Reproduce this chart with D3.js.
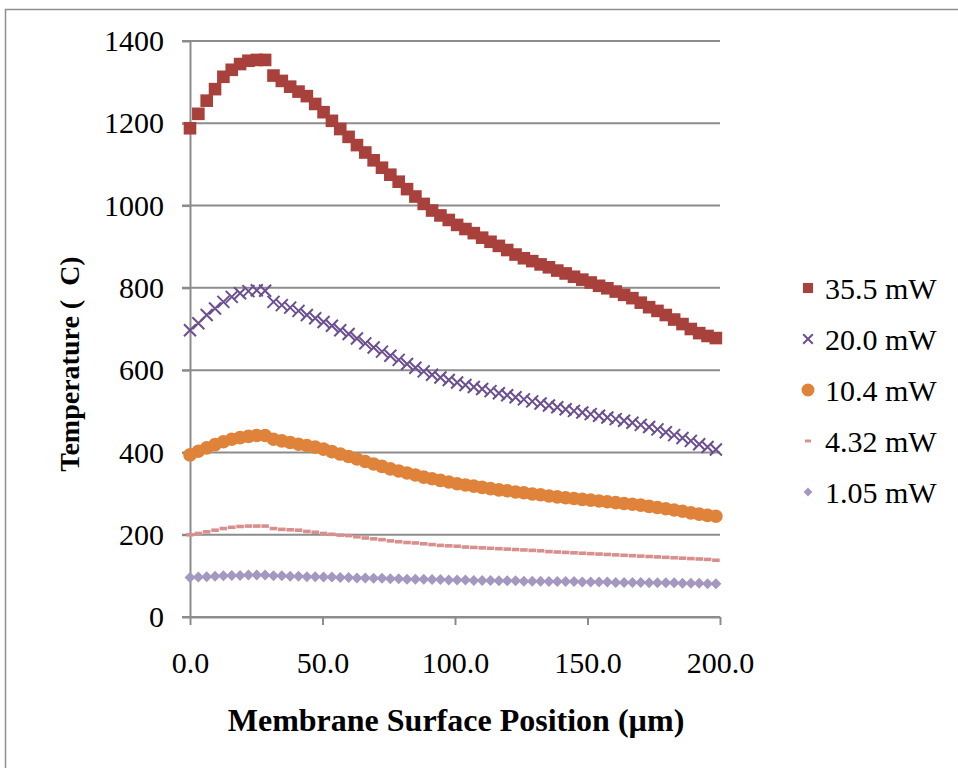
<!DOCTYPE html>
<html>
<head>
<meta charset="utf-8">
<script src="https://cdn.jsdelivr.net/npm/d3@7"></script>
<style>
  body { margin: 0; background: #fff; }
  svg { display: block; }
  text { font-family: "Liberation Serif", "Times New Roman", serif; fill: #000; }
</style>
</head>
<body>
<div class="mainCont"></div>
<script>
// membrane position (um)
var positions = [0, 3.15, 6.3, 9.45, 12.6, 15.75, 18.9, 22.05, 25.2, 28.35, 31.5, 34.65, 37.8, 40.95, 44.1, 47.25,
    50.4, 53.55, 56.7, 59.85, 63, 66.15, 69.3, 72.45, 75.6, 78.75, 81.9, 85.05, 88.2, 91.35, 94.5, 97.65,
    100.8, 103.95, 107.1, 110.25, 113.4, 116.55, 119.7, 122.85, 126, 129.15, 132.3, 135.45, 138.6, 141.75, 144.9, 148.05,
    151.2, 154.35, 157.5, 160.65, 163.8, 166.95, 170.1, 173.25, 176.4, 179.55, 182.7, 185.85, 189, 192.15, 195.3, 198.45];

var t35_5 = [1188, 1223, 1255, 1283, 1313, 1330, 1344, 1352, 1354, 1354, 1316, 1303, 1289, 1277, 1266, 1247,
    1227, 1206, 1186, 1167, 1147, 1129, 1110, 1092, 1075, 1058, 1040, 1022, 1004, 988, 976, 965,
    953, 943, 933, 922, 912, 902, 892, 881, 872, 865, 857, 850, 842, 835, 827, 820,
    813, 805, 799, 791, 783, 775, 764, 753, 744, 734, 723, 712, 700, 690, 683, 678];

var t20_0 = [697, 714, 734, 750, 766, 778, 787, 792, 794, 793, 766, 758, 752, 744, 734, 726,
    717, 708, 697, 688, 677, 665, 655, 645, 635, 625, 615, 606, 597, 589, 582, 576,
    570, 564, 559, 554, 549, 544, 539, 534, 529, 524, 519, 514, 510, 505, 501, 497,
    493, 489, 485, 481, 477, 472, 467, 462, 456, 449, 442, 435, 428, 420, 413, 407];

var t10_4 = [394, 403, 411, 419, 426, 432, 436, 439, 441, 441, 432, 428, 424, 420, 417, 413,
    408, 402, 396, 390, 384, 378, 372, 366, 360, 355, 350, 345, 340, 336, 332, 328,
    324, 321, 318, 315, 312, 309, 307, 304, 302, 299, 297, 294, 292, 290, 288, 286,
    284, 282, 280, 278, 276, 274, 272, 269, 266, 263, 260, 257, 253, 250, 247, 245];

var t4_32 = [200, 203, 207, 211, 215, 218, 220, 221, 221, 221, 215, 213, 212, 211, 208, 206,
    203, 201, 199, 198, 195, 192, 190, 188, 185, 183, 181, 180, 178, 176, 174, 173,
    172, 170, 169, 168, 167, 166, 165, 164, 163, 162, 161, 159, 158, 157, 156, 155,
    154, 153, 152, 151, 150, 149, 148, 147, 146, 145, 144, 143, 142, 141, 140, 138];

var t1_05 = [96, 97, 98, 99, 100, 101, 101, 102, 102, 102, 100, 100, 99, 99, 98, 98,
    97, 97, 96, 96, 95, 95, 94, 94, 93, 93, 92, 92, 92, 91, 91, 90,
    90, 90, 89, 89, 89, 88, 88, 88, 87, 87, 87, 86, 86, 86, 86, 85,
    85, 85, 85, 84, 84, 84, 84, 83, 83, 83, 83, 82, 82, 82, 81, 81];

var seriesNames = ["35.5 mW", "20.0 mW", "10.4 mW", "4.32 mW", "1.05 mW"];
var seriesValues = [t35_5, t20_0, t10_4, t4_32, t1_05];
var seriesColors = ["#a8403c", "#6b4f91", "#e0833a", "#d8908f", "#a497c0"];
var seriesShapes = ["square", "times", "circle", "dash", "diamond"];

var xTicks = [0, 50, 100, 150, 200];
var yTicks = [0, 200, 400, 600, 800, 1000, 1200, 1400];

var width = 958, height = 768;
var plot = { left: 190, right: 720, top: 41, bottom: 617 };

var svg = d3.select(".mainCont").append("svg")
    .attr("width", width)
    .attr("height", height);

// outer frame
svg.append("rect")
    .attr("x", 5.5).attr("y", 9.5)
    .attr("width", 1000).attr("height", 1000)
    .attr("fill", "none")
    .attr("stroke", "#8e8e8e")
    .attr("stroke-width", 1.5);

var x = d3.scaleLinear().domain([0, 200]).range([plot.left, plot.right]);
var y = d3.scaleLinear().domain([0, 1400]).range([plot.bottom, plot.top]);

var gridColor = "#8c8c8c";

// gridlines
svg.append("g").selectAll("line")
    .data(yTicks)
    .enter().append("line")
    .attr("x1", plot.left - 8)
    .attr("x2", plot.right)
    .attr("y1", function(d) { return y(d); })
    .attr("y2", function(d) { return y(d); })
    .attr("stroke", gridColor)
    .attr("stroke-width", 2);

// y axis
var yAxis = svg.append("g")
    .attr("transform", "translate(" + plot.left + ",0)")
    .call(d3.axisLeft(y).tickValues(yTicks).tickSize(8).tickSizeOuter(0).tickPadding(18)
        .tickFormat(d3.format("d")));
yAxis.select(".domain").attr("stroke", gridColor).attr("stroke-width", 2);
yAxis.selectAll("line").attr("stroke", gridColor).attr("stroke-width", 2);
yAxis.selectAll("text")
    .style("font-family", "'Liberation Serif', 'Times New Roman', serif")
    .style("font-size", "30px");

// x axis
var xAxis = svg.append("g")
    .attr("transform", "translate(0," + plot.bottom + ")")
    .call(d3.axisBottom(x).tickValues(xTicks).tickSize(8).tickSizeOuter(0).tickFormat(d3.format(".1f")));
xAxis.select(".domain").attr("stroke", gridColor).attr("stroke-width", 2);
xAxis.selectAll("line").attr("stroke", gridColor).attr("stroke-width", 2);
xAxis.selectAll("text")
    .attr("y", 56)
    .attr("dy", 0)
    .style("font-family", "'Liberation Serif', 'Times New Roman', serif")
    .style("font-size", "30px");

// axis titles
svg.append("text")
    .attr("x", 456)
    .attr("y", 731)
    .attr("text-anchor", "middle")
    .style("font-size", "32px")
    .style("font-weight", "bold")
    .text("Membrane Surface Position (\u00b5m)");

svg.append("text")
    .attr("transform", "translate(79," + 364 + ") rotate(-90)")
    .attr("text-anchor", "middle")
    .style("font-size", "28px")
    .style("font-weight", "bold")
    .text("Temperature (\u00a0\u00a0C)");

// marker drawing
function drawMarker(sel, shape, color, scale) {
    var s = scale || 1;
    if (shape === "square") {
        sel.append("rect")
            .attr("x", -6.3 * s).attr("y", -6.3 * s)
            .attr("width", 12.6 * s).attr("height", 12.6 * s)
            .attr("fill", color);
    } else if (shape === "times") {
        var r = 6 * s;
        sel.append("path")
            .attr("d", "M" + (-r) + "," + (-r) + "L" + r + "," + r + "M" + (-r) + "," + r + "L" + r + "," + (-r))
            .attr("stroke", color)
            .attr("stroke-width", 2)
            .attr("fill", "none");
    } else if (shape === "circle") {
        sel.append("circle")
            .attr("r", 6.8 * s)
            .attr("fill", color);
    } else if (shape === "dash") {
        sel.append("rect")
            .attr("x", -3.8 * s).attr("y", -1.8 * s)
            .attr("width", 7.6 * s).attr("height", 3.6 * s)
            .attr("fill", color);
    } else if (shape === "diamond") {
        var h = 5.5 * s;
        sel.append("path")
            .attr("d", "M0," + (-h) + "L" + h + ",0L0," + h + "L" + (-h) + ",0Z")
            .attr("fill", color);
    }
}

// series (drawn bottom-up so the top series overlap like the original)
for (var k = seriesValues.length - 1; k >= 0; k--) {
    var pts = positions.map(function(p, i) { return [p, seriesValues[k][i]]; });
    var g = svg.append("g").attr("class", "series");
    var m = g.selectAll("g")
        .data(pts)
        .enter().append("g")
        .attr("transform", function(d) { return "translate(" + x(d[0]) + "," + y(d[1]) + ")"; });
    drawMarker(m, seriesShapes[k], seriesColors[k], 1);
}

// legend
var legendY = [288, 339, 390, 441, 492];
var legend = svg.append("g");
seriesNames.forEach(function(name, i) {
    var row = legend.append("g")
        .attr("transform", "translate(808," + legendY[i] + ")");
    drawMarker(row, seriesShapes[i], seriesColors[i], i === 2 ? 0.95 : 0.8);
    row.append("text")
        .attr("x", 17)
        .attr("dy", "0.35em")
        .style("font-size", "30px")
        .text(name);
});
</script>
</body>
</html>
